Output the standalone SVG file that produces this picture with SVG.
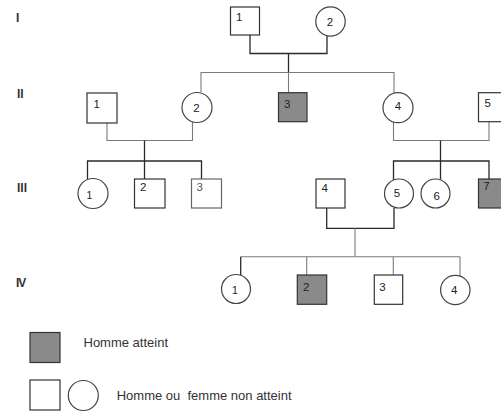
<svg xmlns="http://www.w3.org/2000/svg" width="501" height="412" viewBox="0 0 501 412">
<style>
.bg{fill:#ffffff}
.m{fill:#ffffff;stroke:#333;stroke-width:1.2}
.a{fill:#8a8a8a;stroke:#333;stroke-width:1.2}
.f{fill:#ffffff;stroke:#444;stroke-width:1.2}
.dk{fill:none;stroke:#2a2a2a;stroke-width:1.3}
.lt{fill:none;stroke:#7a7a7a;stroke-width:1.1}
.n{font-family:"Liberation Sans",Arial,sans-serif;font-size:11.5px;fill:#222}
.nc{font-family:"Liberation Sans",Arial,sans-serif;font-size:11.5px;fill:#222;text-anchor:middle}
.g{font-family:"Liberation Sans",Arial,sans-serif;font-size:12px;font-weight:bold;fill:#333}
.lg{font-family:"Liberation Sans",Arial,sans-serif;font-size:13px;fill:#333}
</style>
<rect class="bg" x="0" y="0" width="501" height="412"/>
<g id="generations">
<text class="g" x="16" y="22">I</text>
<text class="g" x="17" y="98">II</text>
<text class="g" x="17" y="192">III</text>
<text class="g" x="16" y="287" style="letter-spacing:-1px">IV</text>
</g>
<g id="connectors">
<path class="dk" d="M250,35 V53.5 H327 V36"/>
<path class="dk" d="M288.5,53.5 V72.5"/>
<path class="lt" d="M288.5,72.5 V92.7"/>
<path class="lt" d="M201,92 V72.5 H394 V92.7"/>
<path class="lt" d="M107,123 V140.5 H192.5 V121.8"/>
<path class="dk" d="M144.5,140.5 V179"/>
<path class="dk" d="M87.5,179.5 V161 H201.5 V179"/>
<path class="lt" d="M393.5,122 V140.5 H489 V121.7"/>
<path class="dk" d="M440.5,140.5 V179.5"/>
<path class="dk" d="M393.5,180 V161 H489 V179"/>
<path class="dk" d="M326.7,208 V228.3 H394 V208"/>
<path class="lt" d="M355,228.3 V256.7"/>
<path class="lt" d="M240.7,256.7 H460"/>
<path class="dk" d="M240.7,256.7 V275.3"/>
<path class="lt" d="M306.7,256.7 V275"/>
<path class="lt" d="M393.3,256.7 V275"/>
<path class="lt" d="M460,256.7 V276"/>
</g>
<g id="I-1"><rect class="m" x="230.5" y="7" width="29" height="28"/><text class="n" x="236" y="21">1</text></g>
<g id="I-2"><circle class="f" cx="330.5" cy="21.5" r="14.7"/><text class="nc" x="330" y="26">2</text></g>
<g id="II-1"><rect class="m" x="87" y="93" width="30" height="30"/><text class="n" x="93.5" y="107.5">1</text></g>
<g id="II-2"><circle class="f" cx="197" cy="107.5" r="15"/><text class="nc" x="196.5" y="112">2</text></g>
<g id="II-3"><rect class="a" x="278.5" y="92.7" width="28.5" height="29"/><text class="n" x="284" y="108">3</text></g>
<g id="II-4"><circle class="f" cx="398" cy="107.7" r="15"/><text class="nc" x="398" y="110">4</text></g>
<g id="II-5"><rect class="m" x="478.5" y="92.7" width="30" height="29"/><text class="n" x="484.5" y="107.3">5</text></g>
<g id="III-1"><circle class="f" cx="93" cy="193.5" r="15"/><text class="nc" x="89.5" y="198.5" style="font-size:10.5px">1</text></g>
<g id="III-2"><rect class="m" x="134.5" y="179" width="30.5" height="29"/><text class="n" x="140" y="190.5">2</text></g>
<g id="III-3"><rect class="m" x="191.5" y="179" width="30" height="29" style="stroke:#666"/><text class="n" x="196.5" y="190.7" style="fill:#555">3</text></g>
<g id="III-4"><rect class="m" x="316" y="179" width="29" height="29"/><text class="n" x="321.5" y="191.5">4</text></g>
<g id="III-5"><circle class="f" cx="399" cy="193.5" r="14.5"/><text class="nc" x="397" y="197">5</text></g>
<g id="III-6"><circle class="f" cx="435.5" cy="193.5" r="14.5"/><text class="nc" x="436.7" y="199.5">6</text></g>
<g id="III-7"><rect class="a" x="478.5" y="179" width="30" height="29"/><text class="n" x="483.3" y="190">7</text></g>
<g id="IV-1"><circle class="f" cx="236" cy="289" r="14.5"/><text class="nc" x="235" y="293.5" style="font-size:10.5px">1</text></g>
<g id="IV-2"><rect class="a" x="297.3" y="275" width="29.4" height="29.3"/><text class="n" x="303" y="291">2</text></g>
<g id="IV-3"><rect class="m" x="374.3" y="275" width="28.4" height="29.3"/><text class="n" x="379.3" y="290.7">3</text></g>
<g id="IV-4"><circle class="f" cx="455.3" cy="290" r="14.7"/><text class="nc" x="454.2" y="294.3">4</text></g>
<g id="legend-affected"><rect class="a" x="30" y="332.5" width="30" height="30"/><text class="lg" x="83.5" y="347">Homme atteint</text></g>
<g id="legend-unaffected"><rect class="m" x="30" y="380" width="30" height="30"/><circle class="f" cx="83.3" cy="395.5" r="15"/><text class="lg" x="116.7" y="399.5" xml:space="preserve">Homme ou  femme non atteint</text></g>
</svg>
